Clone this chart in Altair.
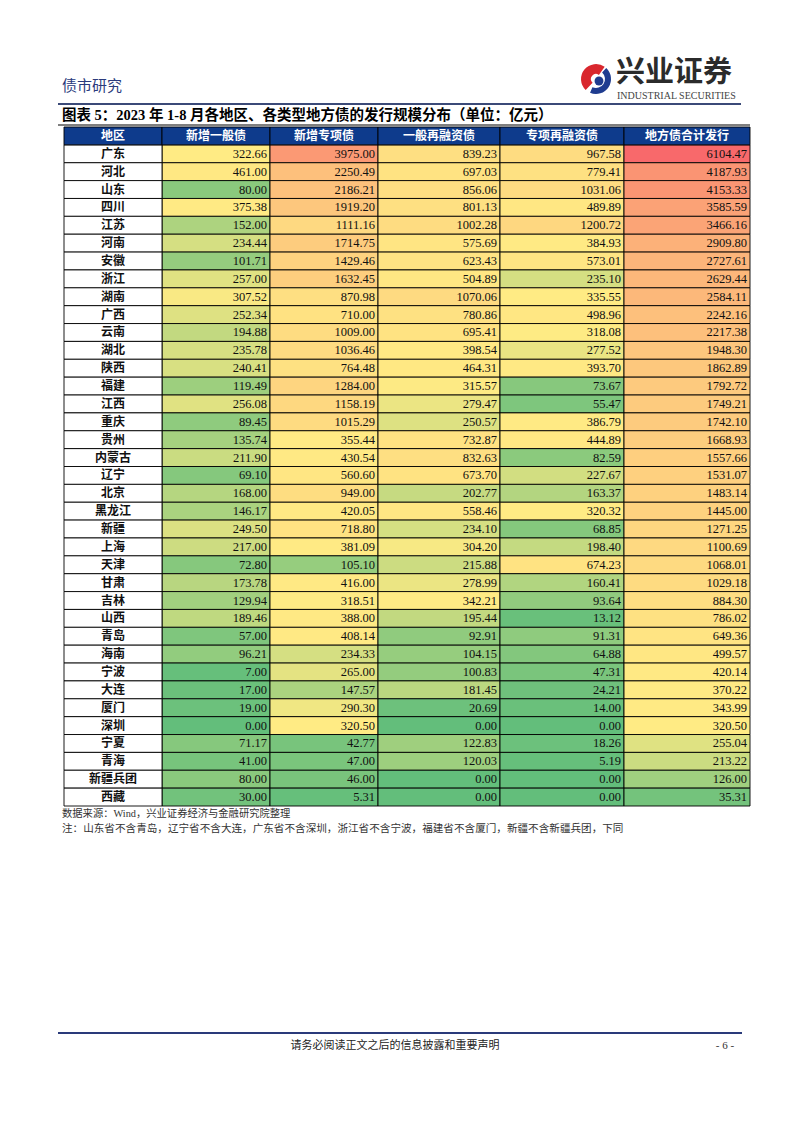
import altair as alt
import pandas as pd
import numpy as np

# ---------------- data ----------------
regions = ["广东", "河北", "山东", "四川", "江苏", "河南", "安徽", "浙江", "湖南", "广西",
           "云南", "湖北", "陕西", "福建", "江西", "重庆", "贵州", "内蒙古", "辽宁", "北京",
           "黑龙江", "新疆", "上海", "天津", "甘肃", "吉林", "山西", "青岛", "海南", "宁波",
           "大连", "厦门", "深圳", "宁夏", "青海", "新疆兵团", "西藏"]
columns = ["新增一般债", "新增专项债", "一般再融资债", "专项再融资债", "地方债合计发行"]
first_header = "地区"

new_general = [322.66, 461.00, 80.00, 375.38, 152.00, 234.44, 101.71, 257.00, 307.52, 252.34,
               194.88, 235.78, 240.41, 119.49, 256.08, 89.45, 135.74, 211.90, 69.10, 168.00,
               146.17, 249.50, 217.00, 72.80, 173.78, 129.94, 189.46, 57.00, 96.21, 7.00,
               17.00, 19.00, 0.00, 71.17, 41.00, 80.00, 30.00]
new_special = [3975.00, 2250.49, 2186.21, 1919.20, 1111.16, 1714.75, 1429.46, 1632.45, 870.98, 710.00,
               1009.00, 1036.46, 764.48, 1284.00, 1158.19, 1015.29, 355.44, 430.54, 560.60, 949.00,
               420.05, 718.80, 381.09, 105.10, 416.00, 318.51, 388.00, 408.14, 234.33, 265.00,
               147.57, 290.30, 320.50, 42.77, 47.00, 46.00, 5.31]
refi_general = [839.23, 697.03, 856.06, 801.13, 1002.28, 575.69, 623.43, 504.89, 1070.06, 780.86,
                695.41, 398.54, 464.31, 315.57, 279.47, 250.57, 732.87, 832.63, 673.70, 202.77,
                558.46, 234.10, 304.20, 215.88, 278.99, 342.21, 195.44, 92.91, 104.15, 100.83,
                181.45, 20.69, 0.00, 122.83, 120.03, 0.00, 0.00]
refi_special = [967.58, 779.41, 1031.06, 489.89, 1200.72, 384.93, 573.01, 235.10, 335.55, 498.96,
                318.08, 277.52, 393.70, 73.67, 55.47, 386.79, 444.89, 82.59, 227.67, 163.37,
                320.32, 68.85, 198.40, 674.23, 160.41, 93.64, 13.12, 91.31, 64.88, 47.31,
                24.21, 14.00, 0.00, 18.26, 5.19, 0.00, 0.00]
total = [6104.47, 4187.93, 4153.33, 3585.59, 3466.16, 2909.80, 2727.61, 2629.44, 2584.11, 2242.16,
         2217.38, 1948.30, 1862.89, 1792.72, 1749.21, 1742.10, 1668.93, 1557.66, 1531.07, 1483.14,
         1445.00, 1271.25, 1100.69, 1068.01, 1029.18, 884.30, 786.02, 649.36, 499.57, 420.14,
         370.22, 343.99, 320.50, 255.04, 213.22, 126.00, 35.31]
series = [new_general, new_special, refi_general, refi_special, total]

page_header = "债市研究"
brand_cn = "兴业证券"
brand_en = "INDUSTRIAL SECURITIES"
title_text = "图表 5：2023 年 1-8 月各地区、各类型地方债的发行规模分布（单位：亿元）"
source_text = "数据来源：Wind，兴业证券经济与金融研究院整理"
note_text = "注：山东省不含青岛，辽宁省不含大连，广东省不含深圳，浙江省不含宁波，福建省不含厦门，新疆不含新疆兵团，下同"
footer_text = "请务必阅读正文之后的信息披露和重要声明"
page_no = "- 6 -"

# ---------------- layout / style ----------------
W, H = 786, 1117
col_widths = [98, 108, 108, 122, 124, 126]
TABLE_X = [56, 742]
TABLE_Y = [119, 798]
GREEN, YELLOW, RED = "#63BE7B", "#FFEB84", "#F8696B"
HEADER_BLUE = "#0E3B8C"
CJK = "Liberation Serif, Noto Sans CJK SC"
NUM = "Liberation Serif"

edges = np.concatenate([[0], np.cumsum(col_widths)])
HDR = "__hdr__"
row_keys = [HDR] + regions

val_rows, reg_rows, hdr_rows = [], [], []
for i, r in enumerate(regions):
    reg_rows.append({"row": r, "x0": edges[0], "x1": edges[1], "label": r})
    for j, c in enumerate(columns):
        val_rows.append({"row": r, "col": c, "value": series[j][i],
                         "x0": edges[j + 1], "x1": edges[j + 2]})
for j, c in enumerate([first_header] + columns):
    hdr_rows.append({"row": HDR, "x0": edges[j], "x1": edges[j + 1], "label": c})
vals = pd.DataFrame(val_rows)
regs = pd.DataFrame(reg_rows)
hdrs = pd.DataFrame(hdr_rows)

all_vals = np.array(series).ravel()
vmin, vmid, vmax = float(all_vals.min()), float(np.percentile(all_vals, 50)), float(all_vals.max())

xs = alt.Scale(domain=[0, float(edges[-1])], range=TABLE_X, nice=False, zero=False)
ys = alt.Scale(domain=row_keys, range=TABLE_Y, paddingInner=0, paddingOuter=0)

def X0():
    return alt.X("x0:Q", scale=xs, axis=None)

def Yb():
    return alt.Y("row:N", scale=ys, axis=None, sort=None)

value_cells = alt.Chart(vals).mark_rect(stroke="#000", strokeWidth=0.9).encode(
    x=X0(), x2="x1:Q", y=Yb(),
    color=alt.Color("value:Q", legend=None,
                    scale=alt.Scale(domain=[vmin, vmid, vmax], range=[GREEN, YELLOW, RED],
                                    interpolate="rgb")))
region_cells = alt.Chart(regs).mark_rect(stroke="#000", strokeWidth=0.9, fill="white").encode(
    x=X0(), x2="x1:Q", y=Yb())
header_cells = alt.Chart(hdrs).mark_rect(stroke="#000", strokeWidth=0.9, fill=HEADER_BLUE).encode(
    x=X0(), x2="x1:Q", y=Yb())

value_text = alt.Chart(vals).mark_text(align="right", dx=-3, font=NUM, fontSize=12.5,
                                       color="#111", baseline="middle").encode(
    x=alt.X("x1:Q", scale=xs, axis=None), y=Yb(),
    text=alt.Text("value:Q", format=".2f"))
regs_c = regs.assign(xc=(regs.x0 + regs.x1) / 2)
hdrs_c = hdrs.assign(xc=(hdrs.x0 + hdrs.x1) / 2)
region_text = alt.Chart(regs_c).mark_text(font=CJK, fontSize=12, color="#111",
                                          fontWeight="bold", baseline="middle").encode(
    x=alt.X("xc:Q", scale=xs, axis=None), y=Yb(), text="label:N")
header_text = alt.Chart(hdrs_c).mark_text(font=CJK, fontSize=12, color="white",
                                          fontWeight="bold", baseline="middle").encode(
    x=alt.X("xc:Q", scale=xs, axis=None), y=Yb(), text="label:N")

# ---------------- page decoration ----------------
def txt(t, x, y, **mark):
    df = pd.DataFrame({"t": [t], "x": [x], "y": [y]})
    return alt.Chart(df).mark_text(baseline="middle", **mark).encode(
        x=alt.X("x:Q", scale=None, axis=None),
        y=alt.Y("y:Q", scale=None, axis=None),
        text="t:N")

def rule(x, x2, y, color, w):
    df = pd.DataFrame({"x": [x], "x2": [x2], "y": [y]})
    return alt.Chart(df).mark_rule(color=color, strokeWidth=w).encode(
        x=alt.X("x:Q", scale=None, axis=None), x2="x2:Q",
        y=alt.Y("y:Q", scale=None, axis=None))

def arc(cx, cy, t1, t2, r1, r2, color):
    df = pd.DataFrame({"x": [cx], "y": [cy]})
    return alt.Chart(df).mark_arc(theta=t1, theta2=t2, outerRadius=r1, innerRadius=r2,
                                  color=color).encode(
        x=alt.X("x:Q", scale=None, axis=None),
        y=alt.Y("y:Q", scale=None, axis=None))

def dot(cx, cy, r, color):
    df = pd.DataFrame({"x": [cx], "y": [cy]})
    return alt.Chart(df).mark_point(filled=True, size=3.1416 * r * r, color=color, opacity=1,
                                    shape="circle").encode(
        x=alt.X("x:Q", scale=None, axis=None),
        y=alt.Y("y:Q", scale=None, axis=None))

deco = [
    txt(page_header, 54, 78, font=CJK, fontSize=15, color="#2A3A7C", align="left"),
    txt(brand_cn, 608, 65, font=CJK, fontSize=29, fontWeight="bold", color="#2b2b2b", align="left"),
    txt(brand_en, 609, 88, font=NUM, fontSize=10, color="#444", align="left"),
    arc(588, 71, 3.9, 6.9, 15, 5, "#D9272E"),
    arc(588, 71, 0.75, 3.55, 15, 9, "#1F3C8F"),
    dot(591, 73, 5, "#1F3C8F"),
    rule(50, 733, 96, "#3B4A78", 2),
    txt(title_text, 54, 108, font=CJK, fontSize=14.5, fontWeight="bold", color="#000", align="left"),
    rule(50, 742, 117, "#000", 1),
    txt(source_text, 54, 806, font=CJK, fontSize=10.3, color="#333", align="left"),
    txt(note_text, 54, 821, font=CJK, fontSize=10.6, color="#333", align="left"),
    rule(50, 734, 1025, "#2A3A7A", 2),
    txt(footer_text, 387, 1038, font=CJK, fontSize=11, color="#222", align="center"),
    txt(page_no, 717, 1038, font=NUM, fontSize=11, color="#333", align="center"),
]

chart = alt.layer(
    value_cells, region_cells, header_cells, value_text, region_text, header_text, *deco
).resolve_scale(x="independent", y="independent", color="independent").properties(
    width=W, height=H, padding=0, autosize=alt.AutoSizeParams(type="none")
).configure(background="white").configure_view(stroke=None)

chart.save("out.html", embed_options={"renderer": "svg", "actions": False})
